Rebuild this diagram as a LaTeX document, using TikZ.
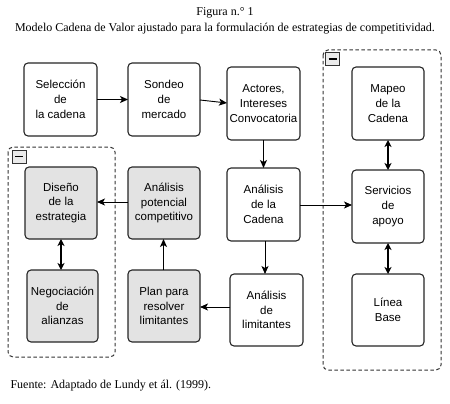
\documentclass[tikz,border=0pt]{standalone}
\usepackage{fontspec}
\setmainfont{Liberation Serif}
\newfontfamily\boxfont{Liberation Sans}
\usetikzlibrary{arrows.meta}
\tikzset{
  stepbox/.style={draw=black!85, line width=1.1pt, rounded corners=4pt, fill=white},
  graybox/.style={stepbox, fill=black!11},
  boxtext/.style={font=\boxfont\fontsize{11.5}{14.7}\selectfont, align=center},
  conn/.style={line width=0.9pt, -{Stealth[length=8pt,width=7pt,inset=2pt]}},
  dconn/.style={line width=1.4pt, {Stealth[length=7pt,width=7pt,inset=2pt]}-{Stealth[length=7pt,width=7pt,inset=2pt]}},
  group/.style={draw=black!80, line width=1pt, rounded corners=5pt, dash pattern=on 3.5pt off 2.5pt},
  minusbox/.style={draw=black!80, fill=black!8, line width=0.8pt, minimum width=14pt, minimum height=13pt, inner sep=0pt},
  caption/.style={font=\fontsize{12}{14}\selectfont},
}
\begin{document}
\begin{tikzpicture}[x=1pt,y=-1pt]
\useasboundingbox (0,0) rectangle (450,404);
% title
\node[caption] (t1) at (225,13) {Figura n.° 1};
\node[caption] (t2) at (225,29) {Modelo Cadena de Valor ajustado para la formulación de estrategias de competitividad.};
\node[caption, anchor=west] (src) at (7,386) {Fuente: Adaptado de Lundy et ál. (1999).};
% groups
\draw[group] (8,147) rectangle (115,357);
\node[minusbox] (m1) at (19,156.5) {};
\draw[line width=1.4pt] (15,156.5) -- (23,156.5);
\draw[group] (323,50) rectangle (441,370);
\node[minusbox] (m2) at (332.5,59) {};
\draw[line width=1.4pt] (328.5,59) -- (336.5,59);
% boxes
\path[stepbox] (24,63) rectangle (97,136);
\node[boxtext] (sel) at (60.5,99.5) {Selección\\de\\la cadena};
\path[stepbox] (128,63) rectangle (200,136);
\node[boxtext] (son) at (164,99.5) {Sondeo\\de\\mercado};
\path[stepbox] (227,67) rectangle (300,140);
\node[boxtext] (act) at (263.5,103.5) {Actores,\\Intereses\\Convocatoria};
\path[stepbox] (352,67) rectangle (424,140);
\node[boxtext] (map) at (388,103.5) {Mapeo\\de la\\Cadena};
\path[stepbox] (227,168) rectangle (300,241);
\node[boxtext] (cad) at (263.5,204.5) {Análisis\\de la\\Cadena};
\path[stepbox] (352,170) rectangle (424,243);
\node[boxtext] (ser) at (388,206.5) {Servicios\\de\\apoyo};
\path[stepbox] (230,274) rectangle (303,346);
\node[boxtext] (lim) at (266.5,310) {Análisis\\de\\limitantes};
\path[stepbox] (352,274) rectangle (424,346);
\node[boxtext] (lin) at (388,310) {Línea\\Base};
\path[graybox] (25,167) rectangle (97,239);
\node[boxtext] (dis) at (61,203) {Diseño\\de la\\estrategia};
\path[graybox] (128,167) rectangle (200,239);
\node[boxtext] (pot) at (164,203) {Análisis\\potencial\\competitivo};
\path[graybox] (27,270) rectangle (98,342);
\node[boxtext] (neg) at (62.5,306) {Negociación\\de\\alianzas};
\path[graybox] (128,270) rectangle (200,342);
\node[boxtext] (pla) at (164,306) {Plan para\\resolver\\limitantes};
% box anchors
\coordinate (selE) at (97,99.5);
\coordinate (sonW) at (128,99.5);
\coordinate (sonE) at (200,100);
\coordinate (actW) at (227,103);
\coordinate (actS) at (263.5,140);
\coordinate (cadN) at (263.5,168);
\coordinate (cadE) at (300,205);
\coordinate (serW) at (352,205);
\coordinate (cadS) at (265,241);
\coordinate (limN) at (265,274);
\coordinate (limW) at (230,307);
\coordinate (plaE) at (200,307);
\coordinate (plaN) at (163.5,270);
\coordinate (potS) at (163.5,239);
\coordinate (potW) at (128,202);
\coordinate (disE) at (97,202);
\coordinate (disS) at (61,239);
\coordinate (negN) at (61,270);
\coordinate (mapS) at (388,140);
\coordinate (serN) at (388,170);
\coordinate (serS) at (388,243);
\coordinate (linN) at (388,274);
% connectors
\draw[conn] (selE) -- (sonW);
\draw[conn] (sonE) -- (actW);
\draw[conn] (actS) -- (cadN);
\draw[conn] (cadE) -- (serW);
\draw[conn] (cadS) -- (limN);
\draw[conn] (limW) -- (plaE);
\draw[conn] (plaN) -- (potS);
\draw[conn] (potW) -- (disE);
\draw[dconn] (disS) -- (negN);
\draw[dconn] (mapS) -- (serN);
\draw[dconn] (serS) -- (linN);
\end{tikzpicture}
\end{document}
